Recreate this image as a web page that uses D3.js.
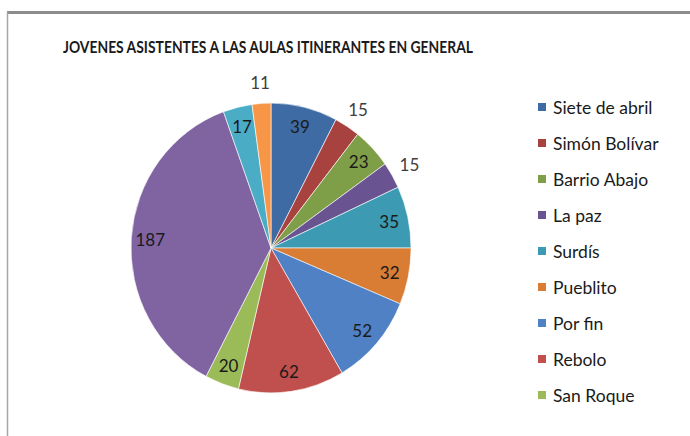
<!DOCTYPE html>
<html>
<head>
<meta charset="utf-8">
<script src="https://cdn.jsdelivr.net/npm/d3@7/dist/d3.min.js"></script>
<style>
  html, body { margin: 0; padding: 0; background: #fff; }
  svg { display: block; }
  text { font-family: Lato, "Open Sans", sans-serif; }
</style>
</head>
<body>
<svg id="chart" width="690" height="436"></svg>
<script>
// Chart data
const title = "JOVENES ASISTENTES A LAS AULAS ITINERANTES EN GENERAL";
const legendNames = ["Siete de abril", "Simón Bolívar", "Barrio Abajo", "La paz", "Surdís",
                     "Pueblito", "Por fin", "Rebolo", "San Roque"];
const sliceValues = [39, 15, 23, 15, 35, 32, 52, 62, 20, 187, 17, 11];
const sliceColors = ["#3E6BA3", "#A8423F", "#7F9E48", "#6A5391", "#3C9BB3", "#D97C34",
                     "#4F81C4", "#C0504D", "#9BBB59", "#8064A2", "#4BACC6", "#F79646"];

const svg = d3.select("#chart");
const W = 690, H = 436;

// Chart frame (grey border, open at right and bottom)
svg.append("rect").attr("x", 0).attr("y", 0).attr("width", W).attr("height", H).attr("fill", "#fff");
svg.append("line").attr("x1", 7).attr("y1", 12.5).attr("x2", W).attr("y2", 12.5)
  .attr("stroke", "#8c8c8c").attr("stroke-width", 3);
svg.append("line").attr("x1", 7.5).attr("y1", 12).attr("x2", 7.5).attr("y2", H)
  .attr("stroke", "#a6a6a6").attr("stroke-width", 1.5);

// Title
svg.append("text")
  .attr("x", 268).attr("y", 53)
  .attr("text-anchor", "middle")
  .attr("font-size", 17)
  .attr("font-weight", "bold")
  .attr("fill", "#1a1a1a")
  .attr("textLength", 410)
  .attr("lengthAdjust", "spacingAndGlyphs")
  .text(title);

// Pie
const cx = 271, cy = 248, R = 140, yScale = 1.035;
const total = d3.sum(sliceValues);
const pie = d3.pie().sort(null).value(d => d);
const arcs = pie(sliceValues);
const arc = d3.arc().innerRadius(0).outerRadius(R);

const g = svg.append("g").attr("transform", `translate(${cx},${cy}) scale(1,${yScale})`);
g.selectAll("path")
  .data(arcs)
  .join("path")
  .attr("d", arc)
  .attr("fill", (d, i) => sliceColors[i])
  .attr("stroke", "#ffffff")
  .attr("stroke-width", 0.6);

// Value labels: inside for larger slices, outside for small ones
const labels = svg.append("g");
arcs.forEach((d) => {
  const share = d.value / total;
  const r = share < 0.03 ? 160 : 121;
  const a = (d.startAngle + d.endAngle) / 2;
  const x = cx + r * Math.sin(a);
  const y = cy - r * Math.cos(a) * yScale;
  labels.append("text")
    .attr("x", x).attr("y", y)
    .attr("text-anchor", "middle")
    .attr("dominant-baseline", "central")
    .attr("font-size", 17)
    .attr("fill", share < 0.03 ? "#404040" : "#1a1a1a")
    .text(d.value);
});

// Legend
const legend = svg.append("g");
const rowY = d3.scalePoint().domain(legendNames).range([107, 395]);
legendNames.forEach((name, i) => {
  const y = rowY(name);
  legend.append("rect")
    .attr("x", 538).attr("y", y - 4).attr("width", 8).attr("height", 8)
    .attr("fill", sliceColors[i]);
  legend.append("text")
    .attr("x", 553).attr("y", y)
    .attr("dominant-baseline", "central")
    .attr("font-size", 17.5)
    .attr("fill", "#1a1a1a")
    .text(name);
});
</script>
</body>
</html>
